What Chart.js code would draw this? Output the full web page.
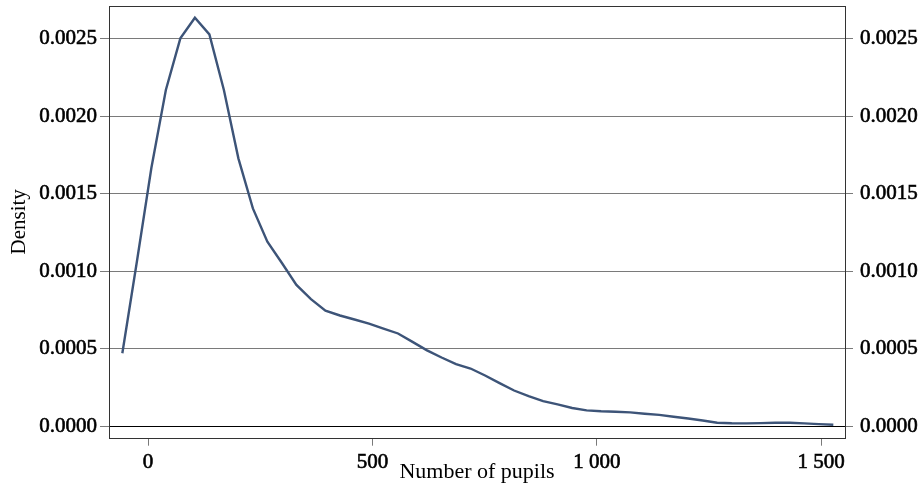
<!DOCTYPE html>
<html>
<head>
<meta charset="utf-8">
<script src="https://cdn.jsdelivr.net/npm/chart.js@4.4.1/dist/chart.umd.min.js"></script>
<style>
  html, body { margin: 0; padding: 0; background: #fff; }
  #wrap { width: 924px; height: 495px; position: relative; }
</style>
</head>
<body>
<div id="wrap"><canvas id="c" width="924" height="495"></canvas></div>
<script>
// Kernel density estimate of school size (number of pupils), 50 evaluation points
const pupils = [-57.3, -25.0, 7.4, 39.7, 72.0, 104.4, 136.7, 169.0, 201.3, 233.6,
  265.9, 298.3, 330.6, 363.0, 395.3, 427.6, 460.0, 492.3, 524.6, 557.0,
  589.3, 621.6, 654.0, 686.3, 718.6, 751.0, 783.3, 815.6, 848.0, 880.3,
  912.6, 945.0, 977.3, 1009.6, 1042.0, 1074.3, 1106.6, 1139.0, 1171.2, 1203.6,
  1235.9, 1268.2, 1300.6, 1333.0, 1365.2, 1397.6, 1430.0, 1462.2, 1494.6, 1527.0];

const density = [0.000471, 0.00106, 0.001667, 0.00217, 0.002503, 0.002636, 0.002529, 0.00217, 0.001729, 0.001406,
  0.001191, 0.001054, 0.000912, 0.000821, 0.000746, 0.000715, 0.000689, 0.000663, 0.000631, 0.000599,
  0.000545, 0.000490, 0.000444, 0.000401, 0.000373, 0.000328, 0.000279, 0.000231, 0.000195, 0.000163,
  0.000141, 0.000118, 0.000103, 0.0000968, 0.0000935, 0.0000897, 0.0000806, 0.0000735, 0.0000619, 0.0000503,
  0.0000374, 0.0000226, 0.0000194, 0.0000187, 0.0000206, 0.0000232, 0.0000232, 0.0000187, 0.0000142, 0.0000103];

const xTicks = [0, 500, 1000, 1500];
const yTicks = [0, 0.0005, 0.001, 0.0015, 0.002, 0.0025];

const LINE = '#3d5478';
const GRID = '#7a7a7a';

Chart.defaults.font.family = "'Liberation Serif', 'Times New Roman', serif";
Chart.defaults.font.size = 21;
Chart.defaults.color = '#000';

function thousands(v) {
  return String(v).replace(/\B(?=(\d{3})+(?!\d))/g, ' ');
}

// plot region outline
const frame = {
  id: 'frame',
  afterDraw(chart) {
    const a = chart.chartArea, ctx = chart.ctx;
    ctx.save();
    ctx.strokeStyle = '#333';
    ctx.lineWidth = 1;
    ctx.strokeRect(Math.round(a.left) + 0.5, Math.round(a.top) + 0.5,
      Math.round(a.right - a.left), Math.round(a.bottom - a.top));
    ctx.restore();
  }
};

const bg = {
  id: 'bg',
  beforeDraw(chart) {
    const ctx = chart.ctx;
    ctx.save();
    ctx.fillStyle = '#fff';
    ctx.fillRect(0, 0, chart.width, chart.height);
    ctx.restore();
  }
};

function fixWidth(w) {
  return function (s) { s.width = w; s.paddingTop = 0; s.paddingBottom = 0; };
}

const tickText = { textStrokeColor: '#000', textStrokeWidth: 0.6 };

new Chart(document.getElementById('c'), {
  type: 'line',
  data: {
    datasets: [{
      data: pupils.map((x, i) => ({ x: x, y: density[i] })),
      borderColor: LINE,
      borderWidth: 2.4,
      pointRadius: 0,
      tension: 0,
      fill: false
    }]
  },
  options: {
    responsive: false,
    animation: false,
    layout: { padding: { top: 6, left: 0, right: 0, bottom: 0 } },
    plugins: { legend: { display: false }, tooltip: { enabled: false } },
    scales: {
      x: {
        type: 'linear',
        min: -87,
        max: 1553,
        afterBuildTicks(s) { s.ticks = xTicks.map(v => ({ value: v })); },
        afterFit(s) { s.height = 57.3; s.paddingLeft = 0; s.paddingRight = 0; },
        ticks: Object.assign({ callback: v => thousands(v), padding: 4, maxRotation: 0 }, tickText),
        grid: { drawOnChartArea: false, tickLength: 8, tickColor: GRID, tickWidth: 1 },
        border: { display: false },
        title: { display: true, text: 'Number of pupils', font: { size: 22 }, padding: { top: 0, bottom: 10 } }
      },
      y: {
        type: 'linear',
        position: 'left',
        min: -0.0000735,
        max: 0.002712,
        afterBuildTicks(s) { s.ticks = yTicks.map(v => ({ value: v })); },
        afterFit: fixWidth(109),
        ticks: Object.assign({ callback: v => v.toFixed(4), padding: 3 }, tickText),
        grid: {
          color: c => (c.tick && c.tick.value === 0 ? '#000' : GRID),
          tickColor: GRID,
          tickLength: 9,
          lineWidth: 1
        },
        border: { display: false },
        title: { display: true, text: 'Density', padding: { top: 7, bottom: 0 } }
      },
      y2: {
        type: 'linear',
        position: 'right',
        min: -0.0000735,
        max: 0.002712,
        afterBuildTicks(s) { s.ticks = yTicks.map(v => ({ value: v })); },
        afterFit: fixWidth(79),
        ticks: Object.assign({ callback: v => v.toFixed(4), padding: 7 }, tickText),
        grid: { drawOnChartArea: false, tickColor: GRID, tickLength: 8 },
        border: { display: false }
      }
    }
  },
  plugins: [bg, frame]
});
</script>
</body>
</html>
